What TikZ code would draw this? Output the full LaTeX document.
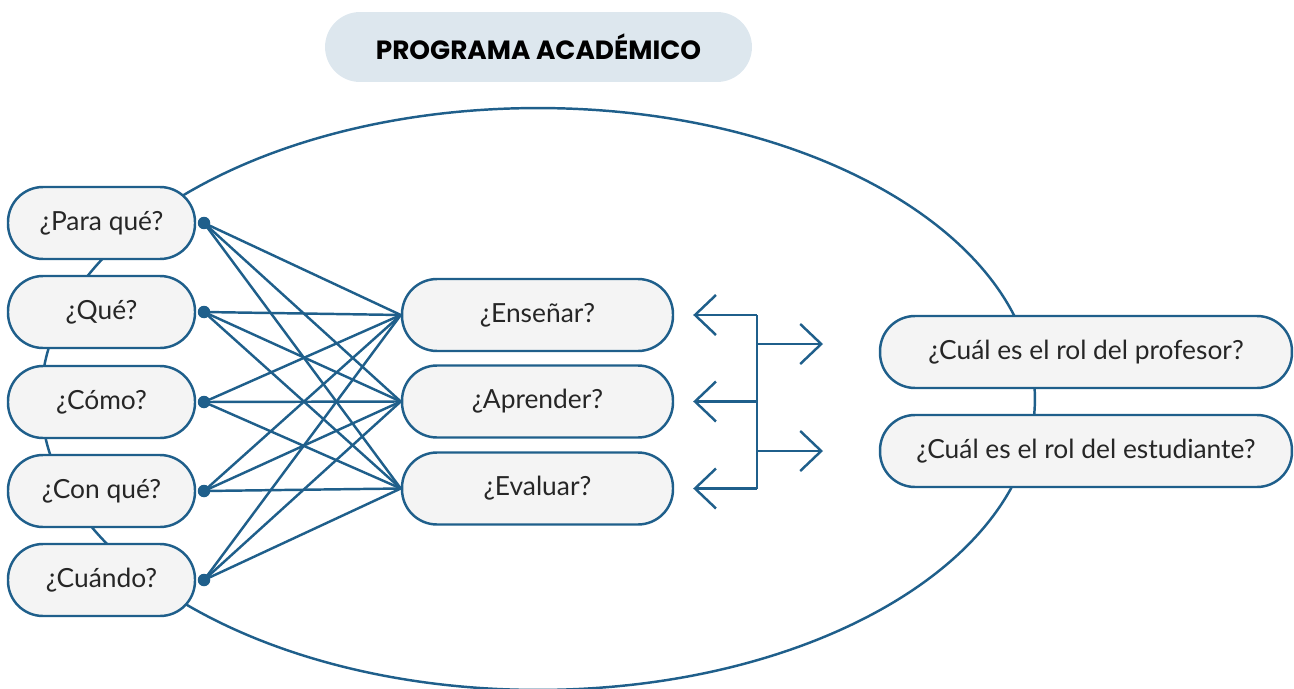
\documentclass[tikz,border=0pt]{standalone}
\usepackage{fontspec}
\setmainfont{Lato}
\newfontfamily\titlefont{Poppins}
\usetikzlibrary{arrows.meta}
\definecolor{azul}{HTML}{1F5F8B}
\definecolor{gris}{HTML}{F4F4F4}
\definecolor{celeste}{HTML}{DDE7EE}

\begin{document}
\begin{tikzpicture}[x=0.02cm, y=-0.02cm,
  caja/.style={draw=azul, fill=gris, line width=1.4pt, rounded corners=0.7cm, minimum height=1.44cm, text=black!85, font=\fontsize{15}{18}\selectfont},
  punto/.style={circle, fill=azul, inner sep=0pt, minimum size=0.25cm},
  linea/.style={azul, line width=1.4pt},
  flecha/.style={linea, -{Straight Barb[length=0.42cm, width=0.8cm]}}]
\useasboundingbox (0,0) rectangle (1294,689);
\draw[linea] (538,399) ellipse [x radius=9.94cm, y radius=5.82cm];
\node[fill=celeste, rounded corners=0.7cm, minimum width=8.54cm, minimum height=1.4cm, font=\titlefont\bfseries\fontsize{15}{18}\selectfont] (titulo) at (538.5,47) {PROGRAMA ACADÉMICO};
\foreach \n/\t/\y in {1/{¿Para qué?}/223, 2/{¿Qué?}/312, 3/{¿Cómo?}/402, 4/{¿Con qué?}/491, 5/{¿Cuándo?}/580}{
\node[caja, minimum width=3.74cm] (p\n) at (101.5,\y) {\t};
\node[punto] (d\n) at (204,\y) {};
}
\node[caja, minimum width=5.42cm] (ensenar) at (537.5,315) {¿Enseñar?};
\node[caja, minimum width=5.42cm] (aprender) at (537.5,401.5) {¿Aprender?};
\node[caja, minimum width=5.42cm] (evaluar) at (537.5,488.5) {¿Evaluar?};
\node[caja, minimum width=8.24cm] (profesor) at (1086,352) {¿Cuál es el rol del profesor?};
\node[caja, minimum width=8.24cm] (estudiante) at (1086,451) {¿Cuál es el rol del estudiante?};
\foreach \i in {1,...,5}{
\foreach \m in {ensenar,aprender,evaluar}{\draw[linea] (d\i.center) -- (\m.west);}
}
\coordinate (b1) at (757,315);
\coordinate (b2) at (757,401.5);
\coordinate (b3) at (757,488.5);
\coordinate (s1) at (757,344);
\coordinate (s2) at (757,451);
\coordinate (r1) at (823,344);
\coordinate (r2) at (823,451);
\draw[linea] (b1) -- (b3);
\draw[flecha, shorten >=0.38cm] (b1) -- (ensenar.east);
\draw[flecha, shorten >=0.38cm] (b2) -- (aprender.east);
\draw[flecha, shorten >=0.38cm] (b3) -- (evaluar.east);
\draw[flecha] (s1) -- (r1);
\draw[flecha] (s2) -- (r2);
\end{tikzpicture}
\end{document}
